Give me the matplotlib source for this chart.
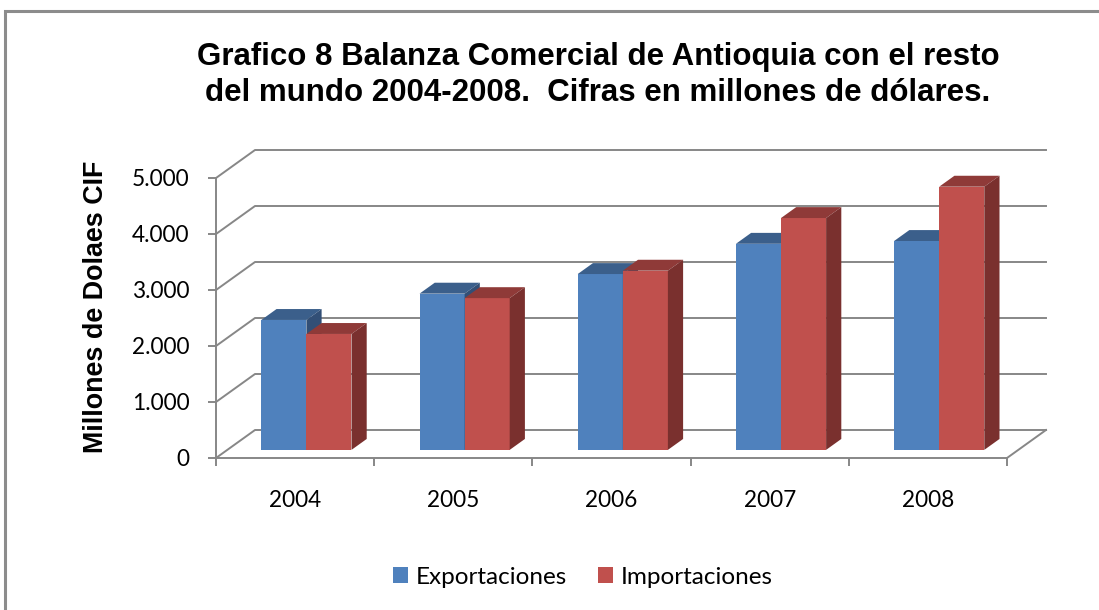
import numpy as np
import matplotlib.pyplot as plt
from matplotlib.patches import Polygon, Rectangle
from matplotlib.ticker import FuncFormatter

# datos (millones de dolares CIF)
anios = ['2004', '2005', '2006', '2007', '2008']
exportaciones = [2320, 2790, 3140, 3680, 3730]
importaciones = [2070, 2710, 3200, 4140, 4700]
series = ['Exportaciones', 'Importaciones']
yticks = [0, 1000, 2000, 3000, 4000, 5000]

# colores: frente, techo, costado
colores = {
    'Exportaciones': ('#4F81BD', '#3B5F8B', '#324F76'),
    'Importaciones': ('#C0504D', '#8F3A38', '#7A302E'),
}

# profundidad del efecto 3D (en unidades de categoria y de valor)
dx, dy = 0.2465, 500
f0, bd = 0.29, 0.39
ancho = 0.285
gris = '#878787'

fig = plt.figure(figsize=(10.99, 6.1), dpi=100)
W, H = 1099, 610
ax = fig.add_axes([216 / W, (H - 458) / H, (1046 - 216) / W, (458 - 149) / H])
ax.set_xlim(0, 830 / 158.2)
ax.set_ylim(0, 309 / 0.056)

# paredes y lineas de division
for v in yticks:
    ax.plot([0, dx, ax.get_xlim()[1]], [v, v + dy, v + dy], color=gris, lw=1.4,
            clip_on=False, zorder=1)
ax.plot([len(anios), len(anios) + dx], [0, dy], color=gris, lw=1.4, clip_on=False, zorder=1)

# barras
handles = []
for s, (nombre, valores) in enumerate(zip(series, [exportaciones, importaciones])):
    frente, techo, costado = colores[nombre]
    x0 = np.arange(len(anios)) + 0.215 + s * ancho + f0 * dx
    b = ax.bar(x0, valores, width=ancho, bottom=f0 * dy, align='edge',
               color=frente, zorder=2 + s, label=nombre)
    handles.append(b)
    for x, v in zip(x0, valores):
        y0 = f0 * dy
        top = [(x, y0 + v), (x + ancho, y0 + v),
               (x + ancho + bd * dx, y0 + v + bd * dy), (x + bd * dx, y0 + v + bd * dy)]
        side = [(x + ancho, y0), (x + ancho, y0 + v),
                (x + ancho + bd * dx, y0 + v + bd * dy), (x + ancho + bd * dx, y0 + bd * dy)]
        ax.add_patch(Polygon(top, closed=True, color=techo, zorder=2 + s, lw=0))
        ax.add_patch(Polygon(side, closed=True, color=costado, zorder=2 + s, lw=0))

# ejes
for lado in ['top', 'right']:
    ax.spines[lado].set_visible(False)
ax.spines['left'].set_bounds(0, 5000)
ax.spines['bottom'].set_bounds(0, len(anios))
for lado in ['left', 'bottom']:
    ax.spines[lado].set_color(gris)
    ax.spines[lado].set_linewidth(1.4)
ax.set_yticks(yticks)
ax.yaxis.set_major_formatter(FuncFormatter(lambda v, p: f'{int(v):,}'.replace(',', '.')))
ax.set_xticks(np.arange(len(anios) + 1))
ax.set_xticklabels([])
ax.set_xticks(np.arange(len(anios)) + 0.5, minor=True)
ax.set_xticklabels(anios, minor=True)
ax.tick_params(axis='y', length=6, width=1.4, color=gris, pad=13,
               labelsize=16.3, labelfontfamily='Lato')
ax.tick_params(axis='x', which='major', length=6, width=1.4, color=gris)
ax.tick_params(axis='x', which='minor', length=0, pad=23, labelsize=16.3, labelfontfamily='Lato')
ax.patch.set_alpha(0)

# titulo en dos lineas
titulo = ['Grafico 8 Balanza Comercial de Antioquia con el resto',
          'del mundo 2004-2008.  Cifras en millones de dólares.']
for linea, yb in zip(titulo, [65, 101]):
    fig.text(598 / W, 1 - yb / H, linea, ha='center', va='baseline', fontsize=22.5,
             fontweight='bold', family='Liberation Sans')
fig.text(96 / W, 1 - 307 / H, 'Millones de Dolaes CIF', rotation=90,
         ha='center', va='center', fontsize=19.4, fontweight='bold', family='Liberation Sans')

fig.legend(handles=handles, labels=series, loc='center', bbox_to_anchor=(583 / W, 1 - 577 / H),
           ncol=2, frameon=False, prop={'family': 'Lato', 'size': 17.5},
           handlelength=0.62, handleheight=0.62, handletextpad=0.3, columnspacing=1.3)

# borde del grafico
fig.patches.append(Rectangle((5 / W, -0.1), 1.2, 1 - 11 / H + 0.1, transform=fig.transFigure,
                             fill=False, edgecolor='#8C8C8C', lw=2.2))

fig.savefig('out.png', dpi=100)
